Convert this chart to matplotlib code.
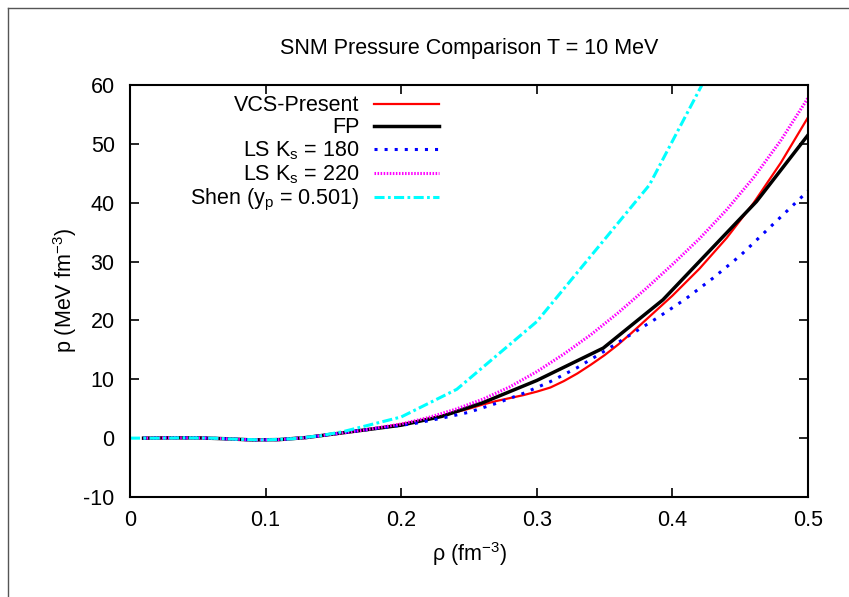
import matplotlib
matplotlib.use("Agg")
import matplotlib.pyplot as plt
from matplotlib.lines import Line2D

plt.rcParams['font.family'] = ['Liberation Sans', 'DejaVu Sans']
plt.rcParams['mathtext.fontset'] = 'custom'
plt.rcParams['mathtext.rm'] = 'Liberation Sans'
plt.rcParams['mathtext.it'] = 'Liberation Sans'
plt.rcParams['axes.unicode_minus'] = False

# low-density part shared by the tables (fm^-3, MeV fm^-3)
rho_low = [0.01, 0.03, 0.05, 0.07, 0.09, 0.11, 0.13, 0.15, 0.17]
p_low = [0.0, 0.05, 0.05, -0.1, -0.3, -0.25, 0.1, 0.7, 1.3]

# VCS-Present
rho_vcs = rho_low + [0.19, 0.21, 0.23, 0.25, 0.26, 0.27, 0.28, 0.29, 0.30, 0.31,
                     0.32, 0.33, 0.34, 0.35, 0.36, 0.37, 0.38, 0.40, 0.42, 0.44,
                     0.46, 0.48, 0.50]
p_vcs = p_low + [2.0, 2.8, 3.8, 5.0, 5.7, 6.3, 6.8, 7.3, 7.9, 8.6,
                 9.7, 11.0, 12.5, 14.1, 15.9, 17.9, 20.0, 24.2, 28.8, 34.0,
                 40.0, 46.8, 54.5]

# FP
rho_fp = rho_low + [0.20, 0.23, 0.26, 0.30, 0.349, 0.393, 0.462, 0.50]
p_fp = p_low + [2.2, 3.7, 6.0, 9.8, 15.3, 23.5, 40.2, 51.5]

# LS Ks = 180
rho_ls180 = rho_low + [0.19, 0.21, 0.23, 0.25, 0.27, 0.29, 0.31, 0.33, 0.35,
                       0.37, 0.39, 0.41, 0.43, 0.45, 0.47, 0.49, 0.50]
p_ls180 = p_low + [1.9, 2.5, 3.4, 4.4, 5.9, 7.6, 9.6, 12.0, 14.8,
                   17.7, 20.6, 23.7, 27.2, 31.0, 35.4, 39.8, 42.0]

# LS Ks = 220
rho_ls220 = rho_low + [0.20, 0.22, 0.24, 0.26, 0.28, 0.30, 0.32, 0.34, 0.36,
                       0.38, 0.40, 0.42, 0.44, 0.46, 0.48, 0.50]
p_ls220 = p_low + [2.4, 3.5, 4.9, 6.6, 8.7, 11.3, 14.3, 17.6, 21.3,
                   25.3, 29.5, 33.9, 38.8, 44.3, 50.6, 57.8]

# Shen (yp = 0.501)
rho_shen = [0.0, 0.02, 0.04, 0.06, 0.08, 0.10, 0.12, 0.14, 0.157, 0.20,
            0.241, 0.30, 0.383, 0.44]
p_shen = [0.0, 0.0, 0.05, 0.0, -0.2, -0.3, -0.1, 0.4, 1.1, 3.6,
          8.3, 19.8, 43.0, 68.0]

fig = plt.figure(figsize=(8.49, 5.97), dpi=100)
ax = fig.add_axes([130 / 849, 1 - 497 / 597, 678 / 849, 412 / 597])

ax.plot(rho_vcs, p_vcs, color='#ff0000', lw=1.6, label='VCS-Present')
ax.plot(rho_fp, p_fp, color='black', lw=2.5, label='FP')
ax.plot(rho_ls180, p_ls180, color='#0000ff', lw=2.2, linestyle=(0, (1, 2.3)),
        label='LS K$_\\mathrm{s}$ = 180')
ax.plot(rho_ls220, p_ls220, color='#ff00ff', lw=2.2, linestyle=(0, (0.5, 0.5)),
        label='LS K$_\\mathrm{s}$ = 220')
ax.plot(rho_shen, p_shen, color='#00ffff', lw=2.2, linestyle=(0, (3.3, 1.1, 0.9, 1.1)),
        label='Shen (y$_\\mathrm{p}$ = 0.501)')

ax.set_xlim(0, 0.5)
ax.set_ylim(-10, 60)
ax.set_xticks([0, 0.1, 0.2, 0.3, 0.4, 0.5])
ax.set_xticklabels(['0', '0.1', '0.2', '0.3', '0.4', '0.5'])
ax.set_yticks(range(-10, 61, 10))
ax.tick_params(direction='in', length=6.5, width=1.2, top=True, right=True,
               labelsize=15.5)
ax.tick_params(axis='x', pad=9)
ax.tick_params(axis='y', pad=11)
for s in ax.spines.values():
    s.set_linewidth(1.5)

ax.set_title('SNM Pressure Comparison T = 10 MeV', fontsize=15.5, pad=22)
ax.set_xlabel('\u03c1 (fm$^{-3}$)', fontsize=15.5, labelpad=7)
ax.set_ylabel('p (MeV fm$^{-3}$)', fontsize=15.5, labelpad=3)

leg = ax.legend(loc='upper right', bbox_to_anchor=(0.4558, 0.975), frameon=False,
                markerfirst=False, fontsize=15.5, handlelength=3.0,
                handletextpad=0.7, labelspacing=0.05, borderpad=0, borderaxespad=0)

# thin page border, left and top
fig.add_artist(Line2D([8 / 849, 8 / 849], [0, 1 - 8 / 597], color='#555555', lw=1))
fig.add_artist(Line2D([8 / 849, 1], [1 - 8 / 597, 1 - 8 / 597], color='#555555', lw=1))

fig.savefig('out.png', dpi=100)
